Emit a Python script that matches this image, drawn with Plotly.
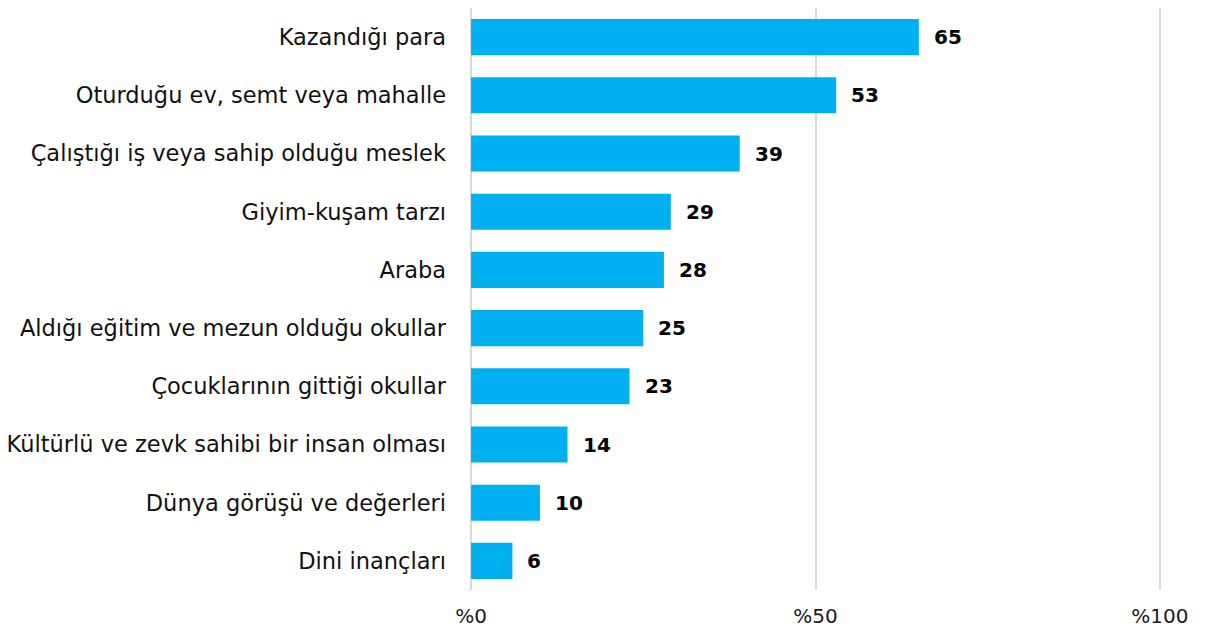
import plotly.graph_objects as go

categories = [
    "Kazandığı para",
    "Oturduğu ev, semt veya mahalle",
    "Çalıştığı iş veya sahip olduğu meslek",
    "Giyim-kuşam tarzı",
    "Araba",
    "Aldığı eğitim ve mezun olduğu okullar",
    "Çocuklarının gittiği okullar",
    "Kültürlü ve zevk sahibi bir insan olması",
    "Dünya görüşü ve değerleri",
    "Dini inançları",
]
values = [65, 53, 39, 29, 28, 25, 23, 14, 10, 6]
tick_vals = [0, 50, 100]
tick_text = ["%0", "%50", "%100"]

FONT = "DejaVu Sans, Liberation Sans, Arial"

fig = go.Figure()
fig.add_trace(go.Bar(
    x=values, y=categories, orientation="h",
    marker=dict(color="#00B0F0", line=dict(width=0)),
    width=0.62,
    hoverinfo="skip",
))
for c, v in zip(categories, values):
    fig.add_annotation(
        x=v, y=c, text=f"<b>{v}</b>", showarrow=False,
        xanchor="left", xshift=13,
        font=dict(family=FONT, size=20, color="#000000"),
    )

fig.update_layout(
    width=1205, height=633,
    margin=dict(l=461, r=51, t=0, b=51),
    plot_bgcolor="white", paper_bgcolor="white",
    showlegend=False,
    font=dict(family=FONT, size=20, color="#1a1a1a"),
    xaxis=dict(
        range=[-0.3, 100.3], tickvals=tick_vals, ticktext=tick_text,
        showgrid=True, gridcolor="#d9d9d9", gridwidth=2,
        zeroline=False, showline=False, ticks="", ticklen=0,
        ticklabelstandoff=12,
        tickfont=dict(family=FONT, size=20, color="#1a1a1a"),
    ),
    yaxis=dict(
        autorange="reversed", showgrid=False, zeroline=False, showline=False,
        ticks="", ticklabelstandoff=22,
        tickfont=dict(family=FONT, size=22.5, color="#111111"),
    ),
)
fig.write_html("out.html")
